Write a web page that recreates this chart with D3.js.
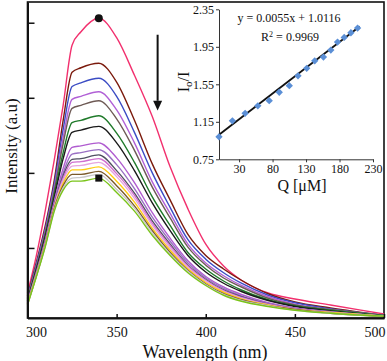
<!DOCTYPE html>
<html>
<head>
<meta charset="utf-8">
<script src="https://cdn.jsdelivr.net/npm/d3@7"></script>
<style>
  body { margin: 0; background: #fff; }
  svg { display: block; font-family: "Liberation Serif", "Times New Roman", serif; }
</style>
</head>
<body>
<div id="chart"></div>
<script>
// wavelength grid (nm) the spectra were read at
const wavelengths = [300, 305, 310, 315, 320, 325, 330, 340, 350, 360, 370, 380, 390, 400, 410, 420, 435, 450, 470, 500]

// emission spectra, top (no quencher) to bottom
const spec01 = [40, 90, 150, 217, 290, 370, 388, 406, 380, 330, 275, 208, 152, 105, 76, 57, 40, 32, 24, 12]
const spec02 = [36, 81, 130, 190, 270, 334, 340, 346, 321, 270, 212, 164, 118, 90, 72, 57, 39, 28, 20, 10]
const spec03 = [34, 79, 126, 185, 258, 315, 320, 326, 302, 254, 200, 154, 111, 85, 67, 53, 37, 27, 19, 10]
const spec04 = [33, 76, 123, 180, 247, 298, 302, 308, 284, 240, 188, 146, 105, 80, 63, 50, 35, 25, 18, 10]
const spec05 = [32, 75, 121, 176, 239, 286, 290, 296, 272, 230, 181, 140, 101, 77, 60, 48, 33, 24, 18, 10]
const spec06 = [30, 72, 117, 171, 227, 267, 270, 276, 253, 214, 168, 130, 94, 72, 56, 44, 31, 23, 17, 10]
const spec07 = [29, 71, 115, 167, 219, 254, 257, 262, 240, 203, 160, 123, 90, 68, 53, 42, 30, 22, 16, 9]
const spec08 = [28, 68, 111, 162, 206, 234, 236, 240, 220, 187, 147, 113, 83, 62, 48, 38, 27, 20, 15, 9]
const spec09 = [27, 67, 109, 159, 200, 225, 227, 231, 211, 179, 141, 109, 80, 60, 46, 36, 26, 20, 15, 9]
const spec10 = [26, 66, 108, 157, 196, 218, 219, 224, 203, 173, 136, 105, 77, 58, 44, 35, 25, 19, 14, 9]
const spec11 = [26, 65, 107, 156, 193, 214, 215, 219, 199, 170, 133, 103, 76, 57, 43, 34, 25, 19, 14, 9]
const spec12 = [26, 65, 106, 155, 190, 209, 210, 214, 195, 166, 130, 100, 74, 56, 42, 33, 24, 18, 14, 9]
const spec13 = [25, 64, 105, 153, 186, 204, 204, 208, 189, 161, 126, 97, 72, 54, 41, 32, 24, 18, 14, 9]
const spec14 = [25, 63, 104, 152, 183, 198, 198, 202, 183, 156, 123, 94, 70, 52, 39, 31, 23, 18, 13, 9]
const spec15 = [24, 63, 103, 150, 180, 193, 194, 198, 178, 153, 120, 92, 69, 51, 38, 30, 23, 17, 13, 9]
const spec16 = [24, 62, 102, 149, 177, 189, 189, 193, 174, 149, 117, 90, 67, 50, 37, 29, 22, 17, 13, 9]
const spectra = [spec01, spec02, spec03, spec04, spec05, spec06, spec07, spec08,
  spec09, spec10, spec11, spec12, spec13, spec14, spec15, spec16]
const spectraColors = ['#f2306e', '#7b1a0c', '#3b4cc4', '#b160d6', '#6e5a55', '#1f7a2a', '#1a1a1a', '#b05cd0',
  '#9a70c4', '#4f4f60', '#d070d0', '#e6a6de', '#ffcc11', '#7a5a2a', '#c8c8c8', '#7ac41a']

const wlTicks = [300, 350, 400, 450, 500]
const intensityTicks = [100, 200, 300, 400]

// Stern-Volmer inset
const quencher = [0, 20, 39, 58, 75, 90, 105, 118, 131, 143, 156, 167, 177, 187, 197, 207]
const ratio = [0.99, 1.16, 1.24, 1.32, 1.375, 1.465, 1.535, 1.64, 1.72, 1.80, 1.84, 1.915, 2.00, 2.05, 2.10, 2.15]
const qTicks = [30, 80, 130, 180, 230]
const ratioTicks = [0.75, 1.15, 1.55, 1.95, 2.35]
const fitSlope = 0.0055
const fitIntercept = 1.0116
const fitRange = [0, 210]

const W = 387, H = 361

const svg = d3.select('#chart').append('svg')
  .attr('width', W)
  .attr('height', H)

const x = d3.scaleLinear().domain([300, 500]).range([27.5, 384])
const y = d3.scaleLinear().domain([6.7, 427.6]).range([318, 2])

// frame
svg.append('rect')
  .attr('x', 27.5).attr('y', 2)
  .attr('width', 384 - 27.5).attr('height', 316)
  .attr('fill', 'none')
  .attr('stroke', '#111')
  .attr('stroke-width', 1.6)

const line = d3.line()
  .x((d, i) => x(wavelengths[i]))
  .y(d => y(d))
  .curve(d3.curveMonotoneX)

svg.append('g')
  .selectAll('path')
  .data(spectra)
  .join('path')
  .attr('d', d => line(d))
  .attr('fill', 'none')
  .attr('stroke', (d, i) => spectraColors[i])
  .attr('stroke-width', 1.4)

// peak markers on first and last spectrum
const iTop = d3.maxIndex(spec01)
svg.append('circle')
  .attr('cx', x(wavelengths[iTop]))
  .attr('cy', y(spec01[iTop]))
  .attr('r', 4)
  .attr('fill', '#111')
const iBot = d3.maxIndex(spec16)
svg.append('rect')
  .attr('x', x(wavelengths[iBot]) - 3.5)
  .attr('y', y(spec16[iBot]) - 3.5)
  .attr('width', 7).attr('height', 7)
  .attr('fill', '#111')

// axes
const xAxis = svg.append('g')
  .attr('transform', 'translate(0,318)')
  .call(d3.axisBottom(x).tickValues(wlTicks).tickSizeInner(-4).tickSizeOuter(0).tickPadding(9))
xAxis.select('.domain').attr('stroke', '#111').attr('stroke-width', 2)
xAxis.selectAll('.tick line').attr('stroke', '#111').attr('stroke-width', 1.5)
xAxis.selectAll('.tick text')
  .attr('font-size', 14)
  .attr('font-family', '"Liberation Serif", serif')
  .attr('fill', '#111')
  .attr('text-anchor', d => d === 300 ? 'start' : d === 500 ? 'end' : 'middle')
  .attr('dx', d => d === 300 ? -2 : d === 500 ? 1 : 0)

const yAxis = svg.append('g')
  .attr('transform', 'translate(27.5,0)')
  .call(d3.axisLeft(y).tickValues(intensityTicks).tickSizeInner(-7).tickSizeOuter(0).tickFormat(''))
yAxis.select('.domain').attr('stroke', '#111').attr('stroke-width', 2)
yAxis.selectAll('.tick line').attr('stroke', '#111').attr('stroke-width', 1.5)

svg.append('text')
  .attr('x', 205).attr('y', 358)
  .attr('text-anchor', 'middle')
  .attr('font-size', 18)
  .attr('fill', '#111')
  .text('Wavelength (nm)')

svg.append('text')
  .attr('transform', 'translate(17,146) rotate(-90)')
  .attr('text-anchor', 'middle')
  .attr('font-size', 17)
  .attr('fill', '#111')
  .text('Intensity (a.u)')

// arrow showing decrease
const ax = x(373)
svg.append('line')
  .attr('x1', ax).attr('x2', ax)
  .attr('y1', y(384)).attr('y2', y(296))
  .attr('stroke', '#111').attr('stroke-width', 2)
svg.append('path')
  .attr('d', `M${ax - 4.5},${y(296)} L${ax + 4.5},${y(296)} L${ax},${y(283)} Z`)
  .attr('fill', '#111')

/// ///inset here //////////////////////////////////
const qx = d3.scaleLinear().domain([0, 230]).range([219, 373])
const ry = d3.scaleLinear().domain([0.75, 2.35]).range([159.3, 9.3])

const inset = svg.append('g')

const qAxis = inset.append('g')
  .attr('transform', 'translate(0,159.3)')
  .call(d3.axisBottom(qx).tickValues(qTicks).tickSizeInner(3).tickSizeOuter(0).tickPadding(2))
const rAxis = inset.append('g')
  .attr('transform', 'translate(219,0)')
  .call(d3.axisLeft(ry).tickValues(ratioTicks).tickSizeInner(3).tickSizeOuter(0).tickPadding(2)
    .tickFormat(d3.format('.2f')))
;[qAxis, rAxis].forEach(a => {
  a.select('.domain').attr('stroke', '#333').attr('stroke-width', 1)
  a.selectAll('.tick line').attr('stroke', '#333')
  a.selectAll('.tick text')
    .attr('font-size', 12)
    .attr('font-family', '"Liberation Serif", serif')
    .attr('fill', '#111')
})

inset.append('line')
  .attr('x1', qx(fitRange[0])).attr('y1', ry(fitSlope * fitRange[0] + fitIntercept))
  .attr('x2', qx(fitRange[1])).attr('y2', ry(fitSlope * fitRange[1] + fitIntercept))
  .attr('stroke', '#111')
  .attr('stroke-width', 1.8)

inset.append('g')
  .selectAll('path')
  .data(quencher)
  .join('path')
  .attr('d', d3.symbol().type(d3.symbolDiamond2).size(34))
  .attr('transform', (d, i) => `translate(${qx(d)},${ry(ratio[i])})`)
  .attr('fill', '#5b8fd6')

inset.append('text')
  .attr('x', 289).attr('y', 22)
  .attr('text-anchor', 'middle')
  .attr('font-size', 12)
  .attr('fill', '#111')
  .text('y = ' + fitSlope + 'x + ' + fitIntercept)

const r2 = inset.append('text')
  .attr('x', 290).attr('y', 41)
  .attr('text-anchor', 'middle')
  .attr('font-size', 12)
  .attr('fill', '#111')
r2.append('tspan').text('R')
r2.append('tspan').attr('font-size', 8).attr('dy', -4).text('2')
r2.append('tspan').attr('dy', 4).text(' = 0.9969')

const ioLabel = inset.append('text')
  .attr('transform', 'translate(189,82) rotate(-90)')
  .attr('text-anchor', 'middle')
  .attr('font-size', 16)
  .attr('fill', '#111')
ioLabel.append('tspan').text('I')
ioLabel.append('tspan').attr('font-size', 11).attr('dy', 3).text('o')
ioLabel.append('tspan').attr('dy', -3).text('/I')

inset.append('text')
  .attr('x', 302).attr('y', 191)
  .attr('text-anchor', 'middle')
  .attr('font-size', 16)
  .attr('fill', '#111')
  .text('Q [μM]')
</script>
</body>
</html>
